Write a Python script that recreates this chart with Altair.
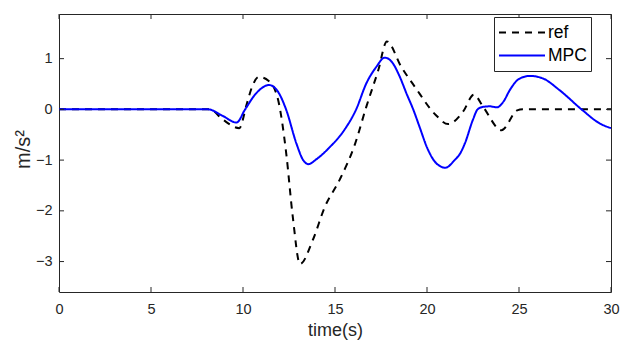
import altair as alt
import pandas as pd

# ---- data ----
t_ref = [0, 8.2, 8.9, 9.8, 10.2, 10.5, 10.85, 11.4, 11.9, 12.35, 12.7, 13.1, 13.8, 14.45, 15.25,
         16.1, 16.7, 17.35, 17.82, 18.6, 19.35, 20.45, 21.15, 21.95, 22.55, 23.05, 24.05, 24.9, 25.2, 30]
v_ref = [0, 0, -0.2, -0.37, 0.1, 0.45, 0.64, 0.56, 0.2, -0.87, -2.1, -3.05, -2.57, -1.92, -1.39,
         -0.67, 0.05, 0.77, 1.34, 0.84, 0.44, -0.1, -0.29, -0.05, 0.29, 0.05, -0.41, -0.02, 0, 0]

t_mpc = [0, 8.1, 8.9, 9.65, 10.1, 10.7, 11.42, 11.9, 12.35, 12.9, 13.27, 13.55, 14.0, 14.7, 15.5,
         16.15, 16.7, 17.25, 17.7, 18.1, 18.5, 18.9, 19.25, 19.6, 20.0, 20.5, 21.0, 21.5, 21.8, 22.06,
         22.5, 22.75, 23.05, 23.4, 23.8, 24.15, 24.5, 25.0, 25.6, 26.3, 27.2, 28.4, 29.4, 30]
v_mpc = [0, 0, -0.13, -0.26, -0.01, 0.31, 0.48, 0.35, -0.01, -0.67, -1.0, -1.08, -0.98, -0.75, -0.41,
         0.0, 0.51, 0.84, 1.02, 0.93, 0.66, 0.3, 0.0, -0.35, -0.75, -1.06, -1.15, -1.0, -0.87, -0.67,
         -0.2, 0.0, 0.05, 0.06, 0.04, 0.15, 0.38, 0.6, 0.66, 0.61, 0.38, 0.0, -0.28, -0.37]

series = ["ref", "MPC"]
x_ticks = [0, 5, 10, 15, 20, 25, 30]
y_ticks = [-3, -2, -1, 0, 1]

W, H = 552, 278
AX = "#262626"
FONT = "Liberation Sans"

df_ref = pd.DataFrame({"t": t_ref, "v": v_ref, "series": series[0]})
df_mpc = pd.DataFrame({"t": t_mpc, "v": v_mpc, "series": series[1]})

xscale = alt.Scale(domain=[0, 30], nice=False, zero=False)
yscale = alt.Scale(domain=[-3.6, 1.88], nice=False, zero=False)

color = alt.Color(
    "series:N",
    scale=alt.Scale(domain=series, range=["#000000", "#0000FF"]),
    legend=alt.Legend(
        title=None, orient="none", legendX=435, legendY=3,
        symbolType="stroke", symbolSize=2116, symbolStrokeWidth=2,
        labelFontSize=17.5, labelFont=FONT, labelColor="#000000", labelOffset=2,
        padding=4, clipHeight=23, rowPadding=0,
        fillColor="white", strokeColor=AX,
    ),
)
dash = alt.StrokeDash(
    "series:N",
    scale=alt.Scale(domain=series, range=[[7, 6], [1, 0]]),
    legend=None,
)

xaxis = alt.Axis(
    values=x_ticks, format="d", title="time(s)", grid=False, ticks=False, domain=False,
    labelPadding=10, labelFontSize=14.5, labelColor=AX, labelFont=FONT, labelFlush=False,
    titleFontSize=18, titleFontWeight="normal", titleColor=AX, titleFont=FONT,
    titleY=29, titleBaseline="top",
)
yaxis = alt.Axis(
    values=y_ticks, format="d", title="m/s²", grid=False, ticks=False, domain=False,
    labelPadding=7, labelFontSize=14.5, labelColor=AX, labelFont=FONT, labelFlush=False,
    titleFontSize=20, titleFontWeight="normal", titleColor=AX, titleFont=FONT,
    titleX=-26, titleY=135, titleAngle=270, titleAlign="center", titleBaseline="bottom",
)

X = alt.X("t:Q", scale=xscale, axis=xaxis)
Y = alt.Y("v:Q", scale=yscale, axis=yaxis)


def line_layer(d):
    return alt.Chart(d).mark_line(strokeWidth=2, interpolate="monotone", clip=True).encode(
        x=X, y=Y, color=color, strokeDash=dash,
    )


ref_line = line_layer(df_ref)
mpc_line = line_layer(df_mpc)

xt = pd.DataFrame({"t": x_ticks})
yt = pd.DataFrame({"v": y_ticks})
tick_x_bottom = alt.Chart(xt).mark_rule(color=AX, strokeWidth=1).encode(
    x=X, y=alt.value(H), y2=alt.value(H - 5))
tick_x_top = alt.Chart(xt).mark_rule(color=AX, strokeWidth=1).encode(
    x=X, y=alt.value(0), y2=alt.value(5))
tick_y_left = alt.Chart(yt).mark_rule(color=AX, strokeWidth=1).encode(
    y=Y, x=alt.value(0), x2=alt.value(5))
tick_y_right = alt.Chart(yt).mark_rule(color=AX, strokeWidth=1).encode(
    y=Y, x=alt.value(W), x2=alt.value(W - 5))

chart = alt.layer(
    ref_line, mpc_line, tick_x_bottom, tick_x_top, tick_y_left, tick_y_right
).properties(
    width=W, height=H,
    autosize=alt.AutoSizeParams(type="none"),
    padding={"left": 51, "top": 6, "right": 17, "bottom": 52},
).configure(font=FONT).configure_view(stroke=AX, strokeWidth=1)

chart.save("out.html", embed_options={"renderer": "svg", "actions": False})
